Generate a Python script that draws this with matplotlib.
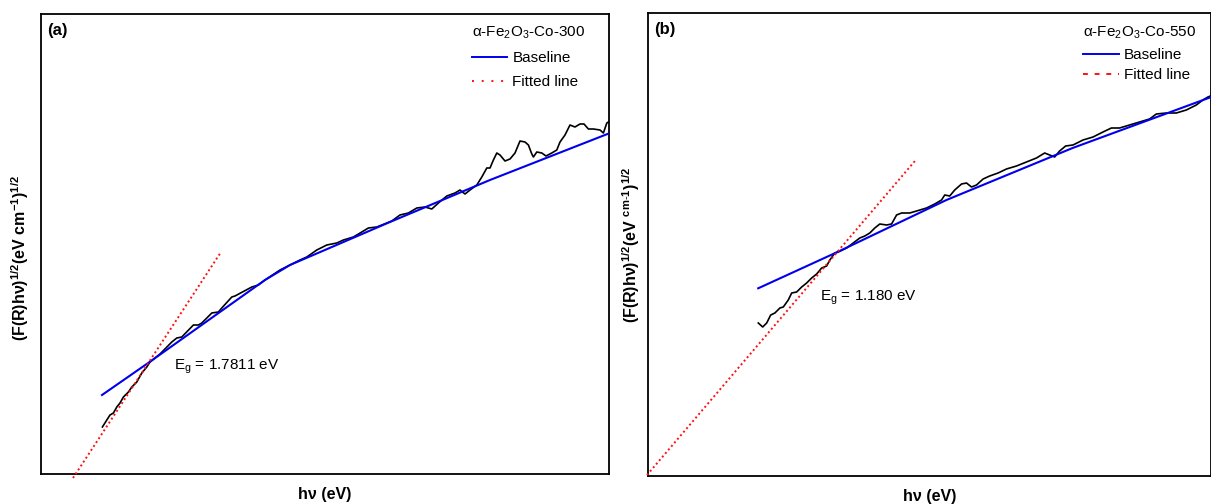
import matplotlib
matplotlib.use("Agg")
import matplotlib.pyplot as plt
from matplotlib.lines import Line2D

plt.rcParams['font.family'] = ['Liberation Sans', 'DejaVu Sans']
plt.rcParams['mathtext.fontset'] = 'custom'
plt.rcParams['mathtext.rm'] = 'Liberation Sans'
plt.rcParams['mathtext.bf'] = 'Liberation Sans:bold'
plt.rcParams['mathtext.it'] = 'Liberation Sans:italic'
plt.rcParams['mathtext.default'] = 'regular'

# ---------------- data: panel (a) α-Fe2O3-Co-300 ----------------
a_x = [1.907, 1.929, 1.945, 1.962, 1.979, 1.995, 2.012, 2.037, 2.054, 2.079,
       2.104, 2.129, 2.145, 2.195, 2.254, 2.279, 2.304, 2.362, 2.387, 2.404,
       2.454, 2.487, 2.504, 2.554, 2.57, 2.654, 2.687, 2.72, 2.795, 2.845,
       2.895, 2.929, 2.979, 3.029, 3.079, 3.112, 3.162, 3.204, 3.237, 3.279,
       3.329, 3.354, 3.395, 3.437, 3.479, 3.52, 3.554, 3.587, 3.629, 3.67,
       3.695, 3.72, 3.745, 3.779, 3.804, 3.829, 3.845, 3.862, 3.879, 3.895,
       3.92, 3.945, 3.97, 3.995, 4.02, 4.037, 4.054, 4.062, 4.079, 4.104,
       4.125, 4.154, 4.179, 4.195, 4.22, 4.245, 4.27, 4.295, 4.315, 4.337,
       4.362, 4.395, 4.412, 4.429, 4.445]
a_y = [0.47, 0.54, 0.59, 0.61, 0.67, 0.71, 0.77, 0.82, 0.87, 0.92,
       1.01, 1.07, 1.12, 1.20, 1.32, 1.36, 1.37, 1.49, 1.49, 1.51,
       1.61, 1.62, 1.66, 1.77, 1.78, 1.87, 1.89, 1.94, 2.04, 2.09,
       2.14, 2.17, 2.24, 2.29, 2.31, 2.34, 2.37, 2.42, 2.46, 2.47,
       2.51, 2.53, 2.59, 2.61, 2.66, 2.67, 2.65, 2.71, 2.78, 2.81,
       2.84, 2.80, 2.84, 2.89, 2.97, 3.06, 3.06, 3.14, 3.21, 3.19,
       3.13, 3.15, 3.21, 3.33, 3.32, 3.29, 3.20, 3.17, 3.22, 3.21,
       3.18, 3.21, 3.24, 3.32, 3.39, 3.49, 3.47, 3.50, 3.50, 3.45,
       3.45, 3.44, 3.41, 3.51, 3.53]
a_base_x = [1.905, 2.145, 2.72, 2.845, 3.345, 3.845, 4.445]
a_base_y = [0.79, 1.123, 1.94, 2.09, 2.52, 2.94, 3.41]
a_fit_x = [1.76, 2.50]
a_fit_y = [-0.04, 2.22]
a_eg = "1.7811"

# ---------------- data: panel (b) α-Fe2O3-Co-550 ----------------
b_x = [1.732, 1.754, 1.774, 1.794, 1.815, 1.84, 1.857, 1.882, 1.899, 1.924,
       1.949, 1.974, 1.999, 2.024, 2.049, 2.074, 2.09, 2.115, 2.132, 2.174,
       2.207, 2.24, 2.265, 2.29, 2.315, 2.34, 2.374, 2.399, 2.424, 2.449,
       2.49, 2.524, 2.574, 2.615, 2.649, 2.665, 2.69, 2.715, 2.749, 2.774,
       2.799, 2.824, 2.857, 2.89, 2.932, 2.974, 3.024, 3.074, 3.124, 3.165,
       3.19, 3.215, 3.24, 3.27, 3.307, 3.357, 3.407, 3.457, 3.499, 3.54,
       3.59, 3.64, 3.69, 3.724, 3.774, 3.824, 3.874, 3.924, 3.957, 3.982, 3.995]
b_y = [1.53, 1.49, 1.53, 1.61, 1.63, 1.68, 1.69, 1.76, 1.83, 1.84,
       1.89, 1.93, 1.98, 2.02, 2.08, 2.10, 2.16, 2.23, 2.24, 2.28,
       2.33, 2.38, 2.40, 2.43, 2.48, 2.52, 2.51, 2.52, 2.61, 2.63,
       2.63, 2.65, 2.68, 2.72, 2.76, 2.81, 2.80, 2.86, 2.92, 2.93,
       2.89, 2.91, 2.97, 3.00, 3.03, 3.07, 3.10, 3.14, 3.18, 3.23,
       3.21, 3.19, 3.25, 3.30, 3.31, 3.36, 3.39, 3.44, 3.48, 3.48,
       3.51, 3.54, 3.57, 3.62, 3.63, 3.63, 3.66, 3.71, 3.76, 3.79, 3.80]
b_base_x = [1.7315, 2.1315, 2.6735, 3.305, 3.995]
b_base_y = [1.877, 2.243, 2.76, 3.28, 3.787]
b_fit_x = [1.175, 2.52]
b_fit_y = [0.01, 3.16]
b_eg = "1.180"

W, H = 1211, 504
fig = plt.figure(figsize=(W / 100, H / 100), dpi=100)

def fx(px):
    return px / W

def fy(py):
    return 1 - py / H

ax_a = fig.add_axes([fx(41), fy(474), fx(609) - fx(41), fy(14) - fy(474)])
ax_b = fig.add_axes([fx(648), fy(476), fx(1210.5) - fx(648), fy(13) - fy(476)])

panels = [
    dict(ax=ax_a, x=a_x, y=a_y, bx=a_base_x, by=a_base_y, fitx=a_fit_x,
         fity=a_fit_y, eg=a_eg, lab='(a)', temp='300',
         xl=(1.60, 4.44), yl=(0, 4.60), egpos=(2.265, 1.07),
         legls=(0, (1, 4)), labsp=0.68, anchor=(0.758, 0.978),
         ylab=r'(F(R)hν)$^{\mathbf{1/2}}$(eV cm$^{\mathbf{-1}}$)$^{\mathbf{1/2}}$',
         ylc=(-0.018, 0.47)),
    dict(ax=ax_b, x=b_x, y=b_y, bx=b_base_x, by=b_base_y, fitx=b_fit_x,
         fity=b_fit_y, eg=b_eg, lab='(b)', temp='550',
         xl=(1.18, 3.995), yl=(0, 4.63), egpos=(2.04, 1.78),
         legls=(0, (2.5, 3.5)), labsp=0.42, anchor=(0.773, 0.974),
         ylab=r'(F(R)hν)$^{\mathbf{1/2}}$(eV $^{\mathbf{cm\text{-}1}}$)$^{\mathbf{1/2}}$',
         ylc=(-0.011, 0.50)),
]

for p in panels:
    ax = p['ax']
    ax.plot(p['x'], p['y'], color='black', lw=1.2, zorder=3)
    ax.plot(p['bx'], p['by'], color='#0000ee', lw=1.5, zorder=4)
    ax.plot(p['fitx'], p['fity'], color='#ff1010', lw=1.4, ls=(0, (1, 1.4)),
            zorder=5, clip_on=False)
    ax.set_xlim(*p['xl'])
    ax.set_ylim(*p['yl'])
    ax.set_xticks([])
    ax.set_yticks([])
    for s in ax.spines.values():
        s.set_linewidth(1.3)
    ax.set_xlabel('hν (eV)', fontsize=11.5, fontweight='bold', labelpad=9)
    ax.set_ylabel(p['ylab'], fontsize=11.5, fontweight='bold')
    ax.yaxis.set_label_coords(*p['ylc'])
    ax.text(p['egpos'][0], p['egpos'][1], r'E$_g$ = ' + p['eg'] + ' eV',
            fontsize=11, ha='left', va='center')
    ax.text(0.011, 0.965, p['lab'], transform=ax.transAxes, fontsize=12,
            fontweight='bold', ha='left', va='center')
    handles = [Line2D([], [], color='#0000ee', lw=1.4),
               Line2D([], [], color='#ff1010', lw=1.4, ls=p['legls'])]
    ax.legend(handles, ['Baseline', 'Fitted line'],
              title=r'α-Fe$_2$O$_3$-Co-' + p['temp'], title_fontsize=11,
              fontsize=11, frameon=False, loc='upper left',
              bbox_to_anchor=p['anchor'], alignment='left',
              handlelength=2.35, handletextpad=0.33,
              labelspacing=p['labsp'], borderpad=0, borderaxespad=0)

fig.savefig('out.png', dpi=100)
